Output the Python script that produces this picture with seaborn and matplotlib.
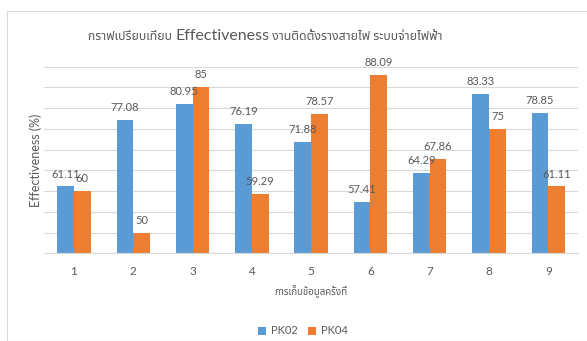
import matplotlib
matplotlib.use('Agg')
import matplotlib.pyplot as plt
from matplotlib.patches import Rectangle
import pandas as pd
import seaborn as sns

rounds = ['1', '2', '3', '4', '5', '6', '7', '8', '9']
pk02 = [61.11, 77.08, 80.95, 76.19, 71.88, 57.41, 64.29, 83.33, 78.85]
pk04 = [60, 50, 85, 59.29, 78.57, 88.09, 67.86, 75, 61.11]
series = ['PK02', 'PK04']

df = pd.DataFrame({
    'round': rounds * 2,
    'value': pk02 + pk04,
    'series': ['PK02'] * len(rounds) + ['PK04'] * len(rounds),
})

sns.set_style('white')
plt.rcParams['font.family'] = ['Lato', 'Noto Sans Thai', 'DejaVu Sans']
grey = '#595959'

fig = plt.figure(figsize=(5.87, 3.41), dpi=100)
ax = fig.add_axes([0.0755, 0.2572, 0.9092, 0.5472])
sns.barplot(data=df, x='round', y='value', hue='series', hue_order=series,
            palette=['#5B9BD5', '#ED7D31'], width=0.563, gap=0, linewidth=0,
            saturation=1, ax=ax, legend=True)

for cont in ax.containers:
    ax.bar_label(cont, labels=[f'{v:g}' for v in cont.datavalues],
                 padding=5, fontsize=8, color=grey)

ax.set_ylim(45, 90)
ax.set_yticks(range(45, 91, 5))
ax.set_yticklabels([])
ax.tick_params(axis='y', length=0)
ax.grid(axis='y', color='#D9D9D9', linewidth=0.8)
ax.set_axisbelow(True)
for s in ['top', 'right', 'left']:
    ax.spines[s].set_visible(False)
ax.spines['bottom'].set_color('#D9D9D9')
ax.set_xlim(-0.5, 8.5)
ax.set_xticks([i - 0.5 for i in range(10)], minor=True)
ax.tick_params(axis='x', which='major', length=0, labelsize=8.5, labelcolor=grey, pad=9)
ax.tick_params(axis='x', which='minor', length=4, color='#D9D9D9')

ax.set_xlabel('การเก็บข้อมูลครั้งที่', fontsize=7, color=grey, labelpad=6)
ax.set_ylabel('Effectiveness (%)', fontsize=9, color=grey, labelpad=-2)

# title: Thai parts smaller than "Effectiveness"
parts = [('กราฟเปรียบเทียบ ', 8.8), ('Effectiveness', 11.5), (' งานติดตั้งรางสายไฟ ระบบจ่ายไฟฟ้า', 8.8)]
fig.canvas.draw()
renderer = fig.canvas.get_renderer()
x = 88 / 587
for txt, size in parts:
    t = fig.text(x, 0.884, txt, ha='left', va='baseline', fontsize=size, color=grey)
    x += t.get_window_extent(renderer).width / fig.bbox.width

ax.legend(loc='center', bbox_to_anchor=(303 / 587, 1 - 331 / 341),
          bbox_transform=fig.transFigure, ncol=2, frameon=False,
          fontsize=8, labelcolor=grey, handlelength=0.7, handleheight=0.7,
          columnspacing=1.0, handletextpad=0.4)

fig.patches.append(Rectangle((7 / 587, 0), 1, 1 - 11 / 341, transform=fig.transFigure,
                             fill=False, edgecolor='#D9D9D9', linewidth=0.8))

fig.savefig('out.png', dpi=100)
